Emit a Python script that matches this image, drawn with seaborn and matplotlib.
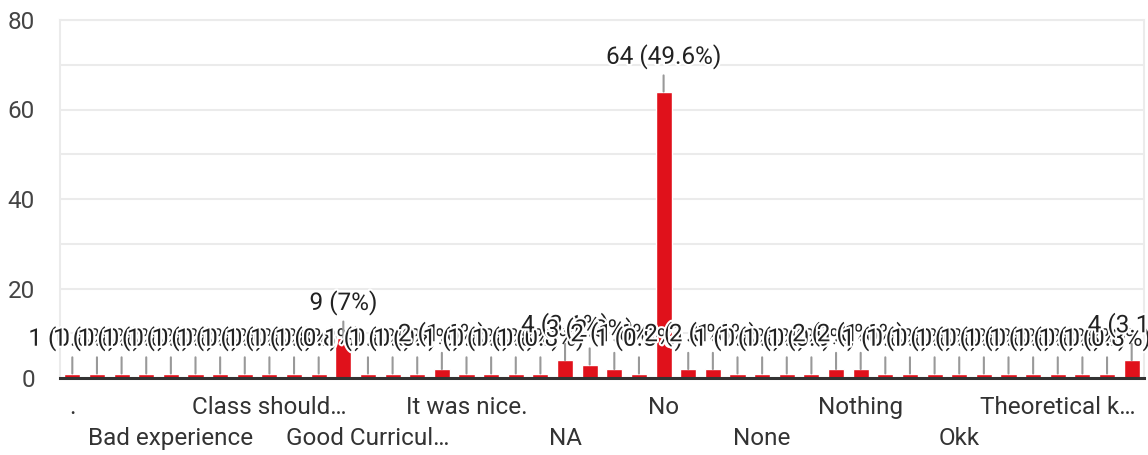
import matplotlib
matplotlib.use("Agg")
import matplotlib.pyplot as plt
import matplotlib.patheffects as pe
import seaborn as sns

# ---------------
# data
categories = [
    ".", "All good", "Average", "Awesome", "Bad experience", "Best", "Boring",
    "Class duration", "Class should…", "Classes offline", "Doubt clearing",
    "Excellent", "Good Curricul…", "Great", "Helpful", "Improve practicals",
    "It was nice.", "Keep it up", "Less theory", "More practical", "NA", "Nil",
    "Nice", "No comments", "No", "No suggestion", "No suggestions", "Non",
    "None", "Not", "Not applicable", "Nope", "Nothing", "Nothing more", "Ok",
    "Okay", "Okk", "Online classes", "Practical", "Satisfied",
    "Theoretical k…", "Very good", "Well", "nothing",
]
counts = [
    1, 1, 1, 1, 1, 1, 1, 1, 1, 1, 1,
    9, 1, 1, 1, 2, 1, 1, 1, 1, 4, 3,
    2, 1, 64, 2, 2, 1, 1, 1, 1, 2, 2,
    1, 1, 1, 1, 1, 1, 1, 1, 1, 1, 4,
]
shown_every = 4
yticks = [0, 20, 40, 60, 80]
minor_yticks = [10, 30, 50, 70]
# ---------------

total = sum(counts)
bar_red = "#e0111b"
grid_col = "#ebebeb"

sns.set_style("white")
plt.rcParams["font.family"] = ["Roboto", "DejaVu Sans"]

fig = plt.figure(figsize=(11.48, 4.55), dpi=100)
ax = fig.add_axes([60 / 1148, 1 - 378 / 455, 1084 / 1148, 358 / 455])

sns.barplot(x=categories, y=counts, order=categories, color=bar_red,
            saturation=1, width=0.65, ax=ax, zorder=2)

ax.set_ylim(0, 80)
ax.set_xlim(-0.5, len(categories) - 0.5)
ax.set_yticks(yticks)
ax.set_yticks(minor_yticks, minor=True)
ax.grid(True, which="both", axis="y", color=grid_col, lw=1.5, zorder=0)
ax.set_axisbelow(True)

for side in ["left", "right", "top"]:
    ax.spines[side].set_color(grid_col)
    ax.spines[side].set_linewidth(1.5)
ax.spines["bottom"].set_color("#333333")
ax.spines["bottom"].set_linewidth(2.2)
ax.spines["bottom"].set_zorder(5)

# staggered x labels, every 4th category
pos = list(range(0, len(categories), shown_every))
labels = []
for k, i in enumerate(pos):
    labels.append(categories[i] if k % 2 == 0 else "\n" + categories[i])
ax.set_xticks(pos)
ax.set_xticklabels(labels, fontsize=17.5, color="#333333")
for lbl in ax.get_xticklabels():
    lbl.set_linespacing(1.42)
ax.tick_params(axis="x", length=0, pad=13)
ax.tick_params(axis="y", which="both", length=0, pad=18, labelsize=17.5,
               labelcolor="#444444")
ax.set_xlabel("")
ax.set_ylabel("")

# value labels with stems
for i, c in enumerate(counts):
    pct = round(100 * c / total, 1)
    pct_txt = f"{pct:g}"
    ax.annotate(f"{c} ({pct_txt}%)", xy=(i, c), xytext=(0, 25),
                textcoords="offset points", ha="center", va="center",
                fontsize=17.5, color="#222222", zorder=6,
                path_effects=[pe.withStroke(linewidth=3, foreground="white")],
                arrowprops=dict(arrowstyle="-", color="#999999", lw=1.5,
                                shrinkA=2, shrinkB=0))

fig.savefig("out.png", dpi=100)
